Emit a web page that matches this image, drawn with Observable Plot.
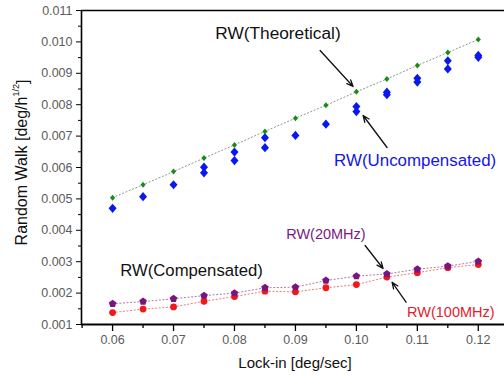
<!DOCTYPE html>
<html>
<head>
<meta charset="utf-8">
<script src="https://cdn.jsdelivr.net/npm/d3@7"></script>
<script src="https://cdn.jsdelivr.net/npm/@observablehq/plot@0.6"></script>
<style>
  html, body { margin: 0; padding: 0; background: #fff; }
  #chart svg { display: block; }
</style>
</head>
<body>
<div id="chart"></div>
<script>
// ---- data ----
const lockIn = [0.06, 0.065, 0.07, 0.075, 0.08, 0.085, 0.09, 0.095, 0.10, 0.105, 0.11, 0.115, 0.12];
const theoretical = [0.00504, 0.00545, 0.00587, 0.00630, 0.00672, 0.00715, 0.00757, 0.00798, 0.00841, 0.00882, 0.00925, 0.00966, 0.01008];
const uncompensatedA = [0.00470, 0.00507, 0.00545, 0.00601, 0.00649, 0.00695, 0.00702, 0.00738, 0.00794, 0.00840, 0.00884, 0.00940, 0.00957];
const uncompensatedB = [null, null, null, 0.00583, 0.00622, 0.00663, null, null, 0.00778, 0.00832, 0.00872, 0.00914, 0.00951];
const rw20MHz = [0.00166, 0.00173, 0.00182, 0.00192, 0.00200, 0.00217, 0.00219, 0.00240, 0.00254, 0.00261, 0.00276, 0.00286, 0.00301];
const rw100MHz = [0.00138, 0.00149, 0.00156, 0.00174, 0.00189, 0.00206, 0.00204, 0.00217, 0.00227, 0.00251, 0.00265, 0.00281, 0.00291];

const xTicks = [0.06, 0.07, 0.08, 0.09, 0.10, 0.11, 0.12];
const xMinorTicks = [0.055, 0.065, 0.075, 0.085, 0.095, 0.105, 0.115];
const yTicks = [0.001, 0.002, 0.003, 0.004, 0.005, 0.006, 0.007, 0.008, 0.009, 0.010, 0.011];
const yMinorTicks = [0.0015, 0.0025, 0.0035, 0.0045, 0.0055, 0.0065, 0.0075, 0.0085, 0.0095, 0.0105];

const xDomain = [0.0549, 0.1243];
const yDomain = [0.001, 0.011];

// annotations (data units)
const labels = [
  {x: 0.07684, y: 0.010268, text: "RW(Theoretical)", color: "#111", size: 17.3},
  {x: 0.09634, y: 0.006223, text: "RW(Uncompensated)", color: "#1515e8", size: 16.9},
  {x: 0.06126, y: 0.00272, text: "RW(Compensated)", color: "#111", size: 16.7},
  {x: 0.08848, y: 0.003866, text: "RW(20MHz)", color: "#7a1a80", size: 14.5},
  {x: 0.10831, y: 0.001392, text: "RW(100MHz)", color: "#e8202a", size: 14.5}
];
const arrows = [
  {x1: 0.09405, y1: 0.009726, x2: 0.09946, y2: 0.00858},
  {x1: 0.10503, y1: 0.006637, x2: 0.1011, y2: 0.007656},
  {x1: 0.10143, y1: 0.003516, x2: 0.10438, y2: 0.002783},
  {x1: 0.10815, y1: 0.00171, x2: 0.10585, y2: 0.002347}
];

// build tables
const theo = lockIn.map((x, i) => ({x, y: theoretical[i]}));
const unc = lockIn.map((x, i) => ({x, y: uncompensatedA[i]}))
  .concat(lockIn.map((x, i) => ({x, y: uncompensatedB[i]})).filter(d => d.y != null));
const m20 = lockIn.map((x, i) => ({x, y: rw20MHz[i]}));
const m100 = lockIn.map((x, i) => ({x, y: rw100MHz[i]}));

// custom symbols
const pentagon = {
  draw(ctx, size) {
    const R = Math.sqrt(size / Math.PI) * 1.1;
    for (let k = 0; k < 5; k++) {
      const a = -Math.PI / 2 + k * 2 * Math.PI / 5;
      const px = R * Math.cos(a), py = R * Math.sin(a);
      if (k === 0) ctx.moveTo(px, py); else ctx.lineTo(px, py);
    }
    ctx.closePath();
  }
};
const diamond = {
  draw(ctx, size) {
    const r = Math.sqrt(size / Math.PI);
    const w = r * 1.0, h = r * 1.15;
    ctx.moveTo(0, -h); ctx.lineTo(w, 0); ctx.lineTo(0, h); ctx.lineTo(-w, 0); ctx.closePath();
  }
};

const fmt = d3.format(".3f");
const fmtX = d3.format(".2f");

const svg = Plot.plot({
  width: 504,
  height: 376,
  marginLeft: 81,
  marginRight: 0,
  marginTop: 10,
  marginBottom: 52,
  style: {fontFamily: "'Liberation Sans', Arial, sans-serif", background: "#fff"},
  x: {domain: xDomain, axis: null},
  y: {domain: yDomain, axis: null},
  marks: [
    // axes
    Plot.axisY(yTicks, {tickSize: 5, tickPadding: 4, tickFormat: fmt, fontSize: 12.5, fill: "#5a5a5a", stroke: "#000", label: null}),
    Plot.axisY(yMinorTicks, {tickSize: 3, tickFormat: () => "", stroke: "#000", label: null}),
    Plot.axisX(xTicks, {tickSize: 7, tickPadding: 4, tickFormat: fmtX, fontSize: 12.5, fill: "#5a5a5a", stroke: "#000", label: null, strokeWidth: 1.3}),
    Plot.axisX(xMinorTicks, {tickSize: 4, tickFormat: () => "", stroke: "#000", label: null, strokeWidth: 1.3}),
    Plot.ruleX([xDomain[0]], {stroke: "#000", strokeWidth: 1.6}),
    Plot.ruleY([yDomain[0]], {stroke: "#000", strokeWidth: 1.8}),
    Plot.ruleY([yDomain[1]], {stroke: "#000", strokeWidth: 1.6}),
    // lines
    Plot.line(theo, {x: "x", y: "y", stroke: "#8a9a8a", strokeWidth: 1, strokeDasharray: "1.2,2.4"}),
    Plot.line(m20, {x: "x", y: "y", stroke: "#b07aa8", strokeWidth: 1, strokeDasharray: "1.2,2.4"}),
    Plot.line(m100, {x: "x", y: "y", stroke: "#f07a7a", strokeWidth: 1, strokeDasharray: "1.2,2.4"}),
    // points
    Plot.dot(unc, {x: "x", y: "y", symbol: diamond, r: 4, fill: "#0a18f0", stroke: "none"}),
    Plot.dot(theo, {x: "x", y: "y", symbol: diamond, r: 2.6, fill: "#1a8a1a", stroke: "none"}),
    Plot.dot(m100, {x: "x", y: "y", symbol: "circle", r: 3.4, fill: "#f01818", stroke: "none"}),
    Plot.dot(m20, {x: "x", y: "y", symbol: pentagon, r: 3.6, fill: "#7a1580", stroke: "none"}),
    // annotations
    Plot.arrow(arrows, {x1: "x1", y1: "y1", x2: "x2", y2: "y2", stroke: "#111", strokeWidth: 1.3, headLength: 8, headAngle: 45, bend: 0}),
    Plot.text(labels, {x: "x", y: "y", text: "text", fill: "color", fontSize: "size", textAnchor: "start", lineAnchor: "middle"})
  ]
});

// axis titles (with superscript on the y label)
const s = d3.select(svg);
const yl = s.append("text")
  .attr("transform", "translate(27,162.5) rotate(-90)")
  .attr("text-anchor", "middle")
  .attr("font-size", 16)
  .attr("fill", "#111");
yl.append("tspan").text("Random Walk [deg/h");
yl.append("tspan").attr("font-size", 9).attr("dy", "-0.9em").text("1/2");
yl.append("tspan").attr("dy", "0.55em").text("]");

s.append("text")
  .attr("x", 295)
  .attr("y", 368)
  .attr("text-anchor", "middle")
  .attr("font-size", 15)
  .attr("fill", "#111")
  .text("Lock-in [deg/sec]");

document.getElementById("chart").appendChild(svg);
</script>
</body>
</html>
